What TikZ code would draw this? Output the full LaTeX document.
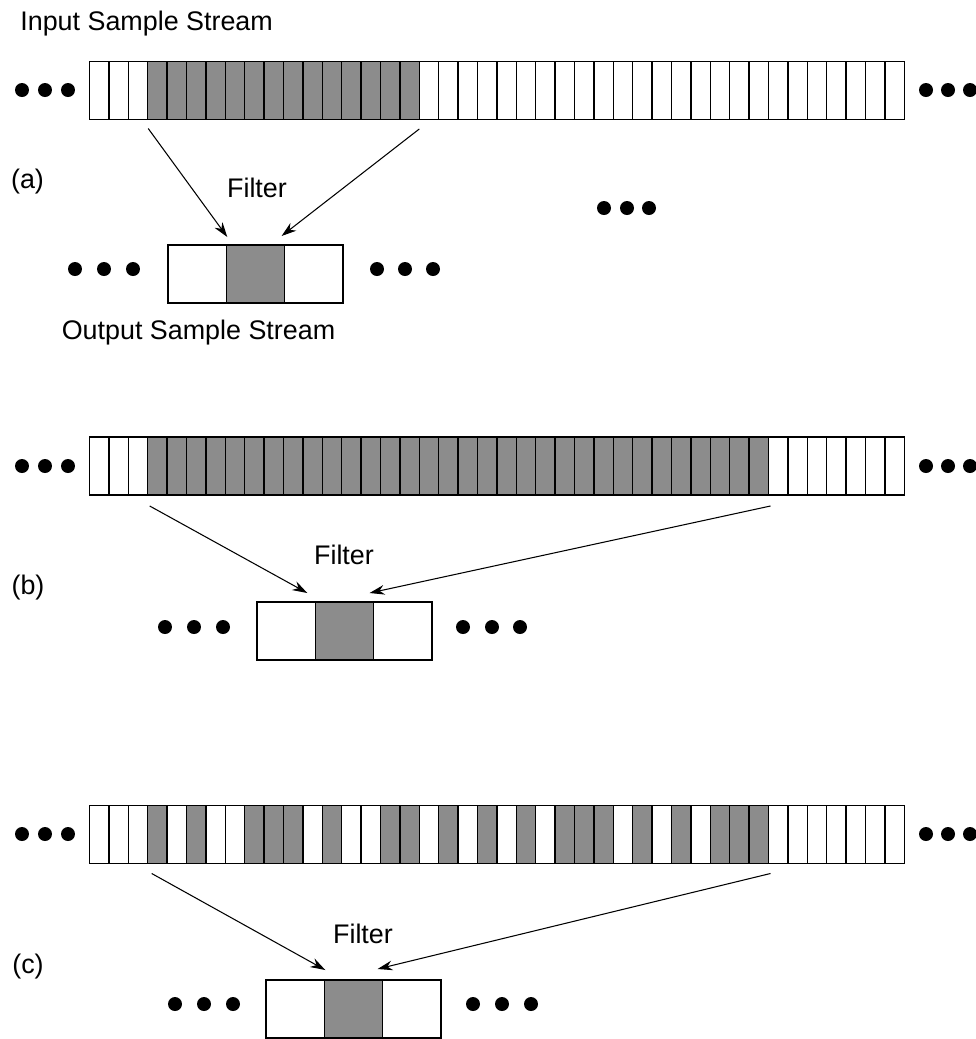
\documentclass[tikz,border=0pt]{standalone}
\usepackage{fontspec}
\setmainfont{Liberation Sans}
\usetikzlibrary{
    arrows.meta,
    calc,
    positioning
}

\definecolor{sampgray}{gray}{0.55}

\tikzset{
    sample/.style={draw, line width=0.8pt, minimum width=0.388cm, minimum height=1.16cm,
        inner sep=0pt, outer sep=0pt, anchor=north west},
    outsample/.style={draw, line width=0.8pt, minimum width=1.166cm, minimum height=1.16cm,
        inner sep=0pt, outer sep=0pt, anchor=north west},
    taps/.style={-{Stealth[length=8.5pt, width=5.5pt]}, line width=0.6pt},
    dot/.style={circle, fill=black, inner sep=0pt, minimum size=0.28cm},
    lbl/.style={font=\fontsize{15.3}{18}\selectfont, inner sep=0pt}
}

\begin{document}
\begin{tikzpicture}[x=0.02cm, y=-0.02cm]
    \useasboundingbox (0, 0) rectangle (975, 1039);

    % (a)
    \foreach \i in {3,...,16}
        \fill[sampgray] ({89.5+19.4*\i}, 61.5) rectangle +(19.4, 58);
    \foreach \i in {0,...,41}
        \node[sample] (a\i) at ({89.5+19.4*\i}, 61.5) {};
    \node[outsample] (aL) at (168, 245) {};
    \node[outsample, fill=sampgray] (aM) at (226.3, 245) {};
    \node[outsample] (aR) at (284.7, 245) {};
    \foreach \x [count=\k] in {22, 45, 68} \node[dot] (a-inl\k) at (\x, 90) {};
    \foreach \x [count=\k] in {926, 948, 970} \node[dot] (a-inr\k) at (\x, 90) {};
    \foreach \x [count=\k] in {75, 104, 133} \node[dot] (a-outl\k) at (\x, 269) {};
    \foreach \x [count=\k] in {377, 405, 433} \node[dot] (a-outr\k) at (\x, 269) {};
    \foreach \x [count=\k] in {604, 627, 649} \node[dot] (a-more\k) at (\x, 208) {};
    \draw[taps] ($(a3.south west)+(0.5, 9)$) -- ($(aM.north west)+(1, -8)$);
    \draw[taps] ($(a16.south east)+(0, 9.5)$) -- ($(aM.north east)+(-3, -9)$);
    \node[lbl, anchor=west] (in-title) at (20, 24) {Input Sample Stream};
    \node[lbl] (a-tag) at (27.5, 182) {(a)};
    \node[lbl] (a-filter) at (257, 188) {Filter};
    \node[lbl] (out-title) at (198.5, 333) {Output Sample Stream};

    % (b)
    \foreach \i in {3,...,34}
        \fill[sampgray] ({89.5+19.4*\i}, 437) rectangle +(19.4, 58);
    \foreach \i in {0,...,41}
        \node[sample] (b\i) at ({89.5+19.4*\i}, 437) {};
    \node[outsample] (bL) at (257, 602) {};
    \node[outsample, fill=sampgray] (bM) at (315.3, 602) {};
    \node[outsample] (bR) at (373.7, 602) {};
    \foreach \x [count=\k] in {22, 45, 68} \node[dot] (b-inl\k) at (\x, 466) {};
    \foreach \x [count=\k] in {926, 948, 970} \node[dot] (b-inr\k) at (\x, 466) {};
    \foreach \x [count=\k] in {165, 194, 223} \node[dot] (b-outl\k) at (\x, 627) {};
    \foreach \x [count=\k] in {463, 492, 520} \node[dot] (b-outr\k) at (\x, 627) {};
    \draw[taps] ($(b3.south west)+(2, 11)$) -- ($(bM.north west)+(-8, -9)$);
    \draw[taps] ($(b34.south east)+(2, 11)$) -- ($(bM.north east)+(-4, -9)$);
    \node[lbl] (b-tag) at (28, 588) {(b)};
    \node[lbl] (b-filter) at (344, 555) {Filter};

    % (c)
    \foreach \i in {3,5,8,9,10,12,15,16,18,20,22,24,25,26,28,30,32,33,34}
        \fill[sampgray] ({89.5+19.4*\i}, 805.5) rectangle +(19.4, 58);
    \foreach \i in {0,...,41}
        \node[sample] (c\i) at ({89.5+19.4*\i}, 805.5) {};
    \node[outsample] (cL) at (266, 980) {};
    \node[outsample, fill=sampgray] (cM) at (324.3, 980) {};
    \node[outsample] (cR) at (382.7, 980) {};
    \foreach \x [count=\k] in {22, 45, 68} \node[dot] (c-inl\k) at (\x, 834) {};
    \foreach \x [count=\k] in {926, 948, 970} \node[dot] (c-inr\k) at (\x, 834) {};
    \foreach \x [count=\k] in {175, 204, 233} \node[dot] (c-outl\k) at (\x, 1004) {};
    \foreach \x [count=\k] in {473, 502, 531} \node[dot] (c-outr\k) at (\x, 1004) {};
    \draw[taps] ($(c3.south west)+(4, 10)$) -- ($(cM.north west)+(1, -10)$);
    \draw[taps] ($(c34.south east)+(2, 10)$) -- ($(cM.north east)+(-5, -11)$);
    \node[lbl] (c-tag) at (28, 967) {(c)};
    \node[lbl] (c-filter) at (363, 934) {Filter};
\end{tikzpicture}
\end{document}
